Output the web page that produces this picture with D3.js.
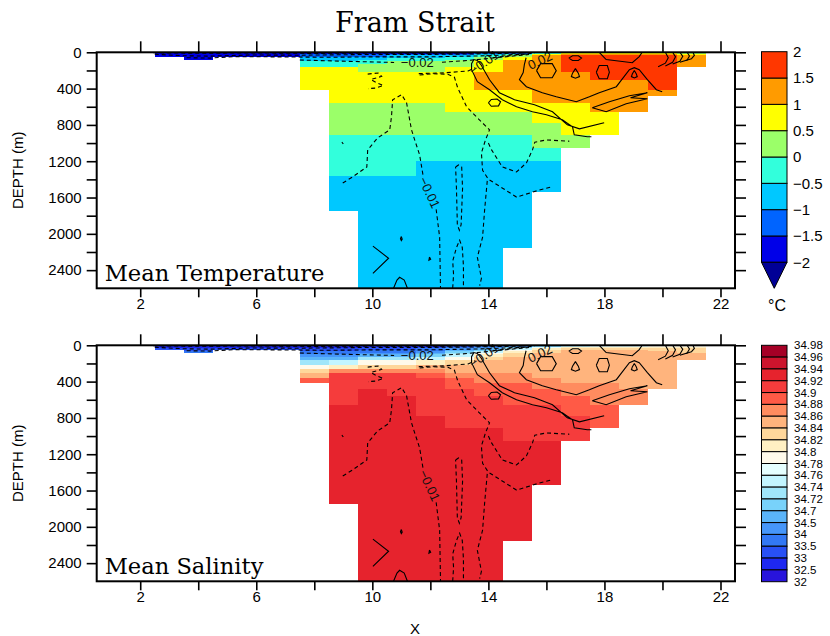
<!DOCTYPE html>
<html><head><meta charset="utf-8">
<script src="https://cdn.jsdelivr.net/npm/d3@7"></script>
<style>body{margin:0;background:#fff} svg{display:block}</style>
</head><body><svg id="c" width="830" height="636"></svg>
<script>
// ---------------- DATA ----------------
const levels = [0,10,20,35,50,65,80,100,125,165,220,260,310,360,410,480,555,660,780,910,1050,1200,1360,1540,1745,1950,2160,2380,2600];
const columns = [1,2,3,4,5,6,7,8,9,10,11,12,13,14,15,16,17,18,19,20,21,22];

const temperature = [
 [],
 [],
 [-1.8,-1.8,-1.8,-1.8],
 [-1.8,-1.8,-1.8,-1.8,-1.7,-1.6],
 [-1.8,-1.8,-1.8,-1.8],
 [-1.8,-1.8,-1.8,-1.8],
 [-1.8,-1.8,-1.8,-1.8],
 [-1.8,-1.8,-1.2,-1.2,-0.7,-0.7,-0.7,-0.3,-0.3,0.7,0.7,0.7,0.7,0.7],
 [-1.8,-1.8,-1.2,-1.2,-0.7,-0.7,-0.7,-0.3,-0.3,0.7,0.7,0.7,0.7,0.7,0.7,0.7,0.3,0.3,0.3,-0.3,-0.3,-0.3,-0.7,-0.7],
 [-1.8,-1.8,-1.2,-1.2,-0.7,-0.7,-0.3,-0.3,0.3,0.3,0.7,0.7,0.7,0.7,0.7,0.7,0.3,0.3,0.3,-0.3,-0.3,-0.3,-0.7,-0.7,-0.7,-0.7,-0.7,-0.7],
 [-1.8,-1.8,-1.2,-0.7,-0.7,-0.3,-0.3,0.3,0.3,0.3,0.7,0.7,0.7,0.7,0.7,0.7,0.3,0.3,0.3,-0.3,-0.3,-0.3,-0.7,-0.7,-0.7,-0.7,-0.7,-0.7],
 [-1.8,-1.8,-1.2,-0.7,-0.7,-0.3,-0.3,0.3,0.3,0.3,0.7,0.7,0.7,0.7,0.7,0.7,0.3,0.3,0.3,-0.3,-0.3,-0.7,-0.7,-0.7,-0.7,-0.7,-0.7,-0.7],
 [-1.8,-1.8,-1.2,-0.7,-0.3,-0.3,0.3,0.3,0.3,0.7,0.7,0.7,0.7,0.7,0.7,0.7,0.7,0.3,0.3,-0.3,-0.3,-0.7,-0.7,-0.7,-0.7,-0.7,-0.7,-0.7],
 [-1.8,-1.2,-0.7,-0.3,0.3,0.3,0.7,0.7,0.7,0.7,1.2,1.2,1.2,1.2,0.7,0.7,0.7,0.3,0.3,-0.3,-0.3,-0.7,-0.7,-0.7,-0.7,-0.7,-0.7,-0.7],
 [-1.8,-1.2,-0.3,0.3,0.7,0.7,1.2,1.2,1.2,1.2,1.2,1.2,1.2,1.2,0.7,0.7,0.7,0.3,0.3,-0.3,-0.3,-0.7,-0.7,-0.7,-0.7,-0.7],
 [-1.2,-0.3,0.7,1.2,1.2,1.2,1.2,1.2,1.2,1.2,1.2,1.2,1.2,1.2,1.2,1.2,0.7,0.7,0.3,0.3,-0.3,-0.7,-0.7],
 [-0.3,0.7,1.2,1.7,1.7,1.7,1.7,1.7,1.7,1.7,1.2,1.2,1.2,1.2,1.2,1.2,0.7,0.7,0.7,0.3],
 [-0.3,0.7,1.2,1.7,1.7,1.7,1.7,1.7,1.7,1.7,1.7,1.7,1.2,1.2,1.2,1.2,1.2,0.7,0.7],
 [-0.3,0.7,1.2,1.7,1.7,1.7,1.7,1.7,1.7,1.7,1.7,1.7,1.2,1.2,1.2,1.2,1.2],
 [-0.3,0.7,1.2,1.7,1.7,1.7,1.7,1.7,1.7,1.7,1.7,1.7,1.7,1.7,1.2],
 [-0.3,0.3,0.7,1.2,1.2,1.2,1.2,1.2,1.2],
 []
];

const salinity = [
 [],
 [],
 [32.7,32.7,32.7,33.2],
 [32.7,32.7,32.7,33.2,33.2,33.7],
 [32.7,32.7,32.7,33.2],
 [32.7,32.7,32.7,33.2],
 [32.7,32.7,32.7,33.2],
 [32.7,32.7,32.7,33.2,33.2,33.7,33.7,34.2,34.6,34.73,34.79,34.83,34.85,34.89],
 [32.7,32.7,32.7,33.2,33.2,33.7,33.7,34.2,34.6,34.75,34.81,34.87,34.91,34.91,34.91,34.91,34.91,34.93,34.93,34.93,34.93,34.93,34.93,34.93],
 [32.7,32.7,33.2,33.2,33.7,33.7,34.2,34.6,34.73,34.79,34.83,34.87,34.91,34.91,34.91,34.93,34.93,34.93,34.93,34.93,34.93,34.93,34.93,34.93,34.93,34.93,34.93,34.93],
 [32.7,32.7,33.2,33.2,33.7,33.7,34.2,34.6,34.73,34.79,34.83,34.87,34.91,34.91,34.91,34.91,34.93,34.93,34.93,34.93,34.93,34.93,34.93,34.93,34.93,34.93,34.93,34.93],
 [32.7,32.7,33.2,33.7,33.7,34.2,34.6,34.71,34.75,34.81,34.85,34.87,34.89,34.91,34.91,34.91,34.91,34.91,34.93,34.93,34.93,34.93,34.93,34.93,34.93,34.93,34.93,34.93],
 [32.7,33.2,33.7,34.2,34.6,34.71,34.73,34.75,34.79,34.83,34.85,34.85,34.87,34.89,34.89,34.91,34.91,34.91,34.91,34.93,34.93,34.93,34.93,34.93,34.93,34.93,34.93,34.93],
 [33.2,33.7,34.2,34.6,34.71,34.75,34.79,34.81,34.83,34.85,34.85,34.85,34.87,34.87,34.89,34.89,34.91,34.91,34.91,34.93,34.93,34.93,34.93,34.93,34.93,34.93,34.93,34.93],
 [33.7,34.2,34.71,34.75,34.79,34.81,34.83,34.83,34.85,34.85,34.85,34.85,34.87,34.87,34.89,34.89,34.89,34.91,34.91,34.91,34.93,34.93,34.93,34.93,34.93,34.93],
 [34.2,34.71,34.77,34.81,34.83,34.83,34.85,34.85,34.85,34.85,34.85,34.85,34.85,34.87,34.87,34.89,34.89,34.91,34.91,34.91,34.93,34.93,34.93],
 [34.6,34.75,34.81,34.83,34.85,34.85,34.85,34.85,34.85,34.85,34.85,34.85,34.85,34.85,34.87,34.87,34.89,34.89,34.91,34.91],
 [34.71,34.77,34.81,34.83,34.85,34.85,34.85,34.85,34.85,34.85,34.85,34.85,34.85,34.85,34.87,34.87,34.87,34.89,34.89],
 [34.71,34.77,34.81,34.83,34.85,34.85,34.85,34.85,34.85,34.85,34.85,34.85,34.85,34.85,34.85,34.87,34.87],
 [34.73,34.79,34.81,34.83,34.83,34.85,34.85,34.85,34.85,34.85,34.85,34.85,34.85,34.85,34.85],
 [34.75,34.79,34.81,34.83,34.83,34.83,34.85,34.85,34.85],
 []
];

const tempThresholds = [-2,-1.5,-1,-0.5,0,0.5,1,1.5];
const tempColors = ["#000096","#0000e8","#0064ff","#00c8ff","#32ffdc","#9bff69","#ffff00","#ff9b00","#ff3700"];
const tempLabels = ["2","1.5","1","0.5","0","\u22120.5","\u22121","\u22121.5","\u22122"];
const tempLabelValues = [2,1.5,1,0.5,0,-0.5,-1,-1.5,-2];

const salThresholds = [32.5,33,33.5,34,34.5,34.7,34.72,34.74,34.76,34.78,34.8,34.82,34.84,34.86,34.88,34.9,34.92,34.94,34.96];
const salColors = ["#2814dc","#1e28f0","#2850f5","#3278f5","#4696fa","#5ab4fa","#78d2fa","#a0e6fa","#c3f5ff","#e6ffff","#fffaeb","#fff0c3","#ffd79b","#ffb47d","#ff8c5f","#ff5a46","#f53c3c","#e6232d","#cd142d","#a50026"];
const salLabels = ["34.98","34.96","34.94","34.92","34.9","34.88","34.86","34.84","34.82","34.8","34.78","34.76","34.74","34.72","34.7","34.5","34","33.5","33","32.5","32"];

const xTicks = [2,4,6,8,10,12,14,16,18,20,22];
const xTickLabels = [2,6,10,14,18,22];
const yTicks = [0,200,400,600,800,1000,1200,1400,1600,1800,2000,2200,2400];
const yTickLabels = [0,400,800,1200,1600,2000,2400];

// contour lines of the overlay field [x, depth]
const negContours = [
 [[2.45,5],[4,10],[6,7],[8,12],[10,8],[12,10],[14,6],[15.5,2]],
 [[2.5,22],[3.5,38],[4.4,42],[5.8,30],[7.5,32],[9.5,25],[11.5,25],[13.5,18],[15.2,8]],
 [[3.6,60],[4.4,64],[5.2,48],[6.5,50],[8.5,55],[10,50],[12,50],[14,38],[15.4,18]],
 [[7.5,85],[9.2,100],[10.75,112]],
 [[12.4,110],[13.3,90],[14.4,55],[15.4,25]],
 [[11.6,235],[12.5,226],[13.3,205],[13.55,170]],
 [[14.15,60],[14.8,35],[15.6,8]],
 [[8.98,1440],[9.32,1373],[9.81,1263],[9.84,1075],[10.18,944],[10.6,854],[10.66,711],[10.7,523],[11.01,467],[11.18,556],[11.35,854],[11.46,965],[11.63,1130],[11.75,1360]],
 [[12.2,1730],[12.32,2037],[12.35,2600]],
 [[9.84,240],[10.2,228],[10.32,265],[9.95,300],[10.15,335],[10.38,365],[10.1,395],[9.85,400]],
 [[11.63,250],[12.08,236],[12.6,242],[12.83,275],[12.94,390],[13.25,600],[13.69,744],[14.04,854],[13.9,965],[13.76,1109],[13.8,1300],[13.97,1384],[13.87,1739],[13.8,2037],[13.62,2258],[13.76,2490],[13.7,2570]],
 [[14.0,1000],[14.11,1075],[14.48,1263],[14.97,1318],[15.31,1219],[15.52,1075],[15.6,990],[16.0,965],[16.79,980]],
 [[14.04,1406],[14.97,1595],[15.76,1517],[16.2,1480]],
 [[12.87,1263],[12.97,1241],[13.08,1263],[13.11,1500],[13.06,1900],[13.0,1960],[12.93,1900],[12.9,1500],[12.87,1263]],
 [[12.77,2600],[12.8,2450],[12.77,2300],[12.9,2150],[13.01,2070],[13.1,2150],[13.14,2350],[13.14,2600]],
 [[8.95,990],[9.0,1010]]
];
const posContours = [
 [[17.99,777],[17.14,843],[16.72,799],[16.21,655],[15.59,578],[14.9,523],[14.38,445],[14.04,302],[13.75,140],[13.62,90],[13.5,80],[13.42,125],[13.42,191],[13.62,324],[14.04,412],[14.48,523],[14.97,600],[15.52,655],[16.0,688],[16.55,744],[16.9,821],[16.96,909],[17.41,931],[17.55,931]],
 [[14.0,556],[14.1,520],[14.3,515],[14.42,545],[14.35,590],[14.1,595],[14.0,556]],
 [[15.3,60],[15.24,136],[15.2,224],[15.07,302],[15.31,379],[15.86,445],[16.34,490],[17.03,545],[17.48,490],[17.82,445],[18.41,379],[18.86,191],[19.03,169],[19.2,191],[19.48,302],[19.79,412],[19.99,434]],
 [[17.58,611],[18.06,655],[18.75,567],[19.48,512],[18.9,500],[19.48,445],[18.86,478],[18.17,545],[17.58,611]],
 [[15.66,202],[15.8,125],[16.2,125],[16.34,202],[16.2,280],[15.8,280],[15.66,202]],
 [[16.77,64],[16.9,38],[17.1,38],[17.21,64],[17.1,90],[16.9,90],[16.77,64]],
 [[17.0,180],[17.1,230],[17.14,268],[17.0,285],[16.86,268],[16.9,230],[17.0,180]],
 [[17.72,219],[17.82,146],[18.1,146],[18.17,219],[18.1,291],[17.82,291],[17.72,219]],
 [[19.03,200],[19.1,240],[19.13,268],[19.03,282],[18.93,268],[18.96,240],[19.03,200]],
 [[17.82,0],[18.06,80],[18.96,115],[19.2,48],[19.3,0]],
 [[20.1,0],[20.2,60],[20.1,120],[19.85,160]],
 [[20.35,0],[20.45,50],[20.35,110],[20.1,150]],
 [[20.6,0],[20.7,45],[20.6,100],[20.35,130]],
 [[20.85,0],[20.93,40],[20.85,85],[20.6,110]],
 [[21.05,0],[21.1,35],[21.0,70],[20.8,90]],
 [[10.02,2135],[10.56,2269],[10.02,2435]],
 [[10.73,2600],[10.85,2510],[10.94,2479],[11.1,2510],[11.21,2600]],
 [[11.0,2030],[11.03,2060],[11.0,2075],[10.97,2055],[11.0,2030]],
 [[11.97,2255],[12.01,2280],[11.95,2290],[11.97,2255]]
];
const contourLabels = [
 {text:"\u22120.02", x:11.55, d:114, rot:0},
 {text:"\u22120.01", x:13.85, d:110, rot:-35},
 {text:"0.02", x:15.78, d:90, rot:-25},
 {text:"\u22120.01", x:11.97, d:1545, rot:65}
];

// ---------------- DRAW ----------------
const svg = d3.select("#c");
svg.append("rect").attr("width",830).attr("height",636).attr("fill","#fff");
const L = 96.7, R = 735, H = 236;
const x = d3.scaleLinear().domain([0.5,22.5]).range([L,R]);
const sans = "'Liberation Sans', Arial, sans-serif";
const serif = "'DejaVu Serif', serif";

svg.append("text").attr("x",415).attr("y",32).attr("text-anchor","middle")
  .attr("font-family",serif).attr("font-size",27).text("Fram Strait");

function panel(top, field, color, label, clipId){
  const y = d3.scaleLinear().domain([0,2600]).range([top, top+H]);
  const g = svg.append("g");
  svg.append("clipPath").attr("id",clipId).append("rect")
    .attr("x",L).attr("y",top).attr("width",R-L).attr("height",H);
  const cells = [];
  field.forEach((col,i)=>col.forEach((v,k)=>{ if(v!=null) cells.push({c:columns[i],k,v}); }));
  g.append("g").attr("shape-rendering","crispEdges").selectAll("rect").data(cells).join("rect")
    .attr("x",d=>x(d.c-0.5)).attr("width",d=>x(d.c+0.5)-x(d.c-0.5))
    .attr("y",d=>y(levels[d.k])).attr("height",d=>y(levels[d.k+1])-y(levels[d.k]))
    .attr("fill",d=>color(d.v));
  const line = d3.line().x(d=>x(d[0])).y(d=>y(d[1]));
  const cg = g.append("g").attr("clip-path",`url(#${clipId})`).attr("fill","none").attr("stroke","#000").attr("stroke-width",1.1);
  cg.selectAll("path.n").data(negContours).join("path").attr("class","n").attr("d",line).attr("stroke-dasharray","4,3");
  cg.selectAll("path.p").data(posContours).join("path").attr("class","p").attr("d",line);
  g.selectAll("text.cl").data(contourLabels).join("text").attr("class","cl")
    .attr("transform",d=>`translate(${x(d.x)},${y(d.d)}) rotate(${d.rot})`)
    .attr("text-anchor","middle").attr("dy","0.35em")
    .attr("font-family",sans).attr("font-size",13).attr("fill","#111").text(d=>d.text);
  // label box
  g.append("rect").attr("x",L+1).attr("y",top+H-32).attr("width",240).attr("height",31).attr("fill","#fff");
  g.append("text").attr("x",L+8).attr("y",top+H-7).attr("font-family",serif).attr("font-size",22.6).text(label);
  // axes
  const ax = (a)=>a.tickSizeOuter(0);
  const bottom = g.append("g").attr("transform",`translate(0,${top+H})`)
    .call(ax(d3.axisBottom(x).tickValues(xTicks).tickSize(9).tickPadding(1).tickFormat(d=>xTickLabels.includes(d)?d:"")));
  const topAx = g.append("g").attr("transform",`translate(0,${top})`)
    .call(ax(d3.axisTop(x).tickValues(xTicks).tickSize(11).tickFormat("")));
  const left = g.append("g").attr("transform",`translate(${L},0)`)
    .call(ax(d3.axisLeft(y).tickValues(yTicks).tickSize(10).tickPadding(5).tickFormat(d=>yTickLabels.includes(d)?d:"")));
  const right = g.append("g").attr("transform",`translate(${R},0)`)
    .call(ax(d3.axisRight(y).tickValues(yTicks).tickSize(11).tickFormat("")));
  [bottom,topAx,left,right].forEach(a=>{
    a.select(".domain").remove();
    a.selectAll("line").attr("stroke","#000").attr("stroke-width",1.6);
    a.selectAll("text").attr("font-family",sans).attr("font-size",15).attr("fill","#000");
  });
  g.append("rect").attr("x",L).attr("y",top).attr("width",R-L).attr("height",H)
    .attr("fill","none").attr("stroke","#000").attr("stroke-width",2);
  g.append("text").attr("transform",`translate(23,${top+H/2}) rotate(-90)`).attr("text-anchor","middle")
    .attr("font-family",sans).attr("font-size",15).text("DEPTH (m)");
  return y;
}

const tempColor = d3.scaleThreshold().domain(tempThresholds).range(tempColors);
const salColor = d3.scaleThreshold().domain(salThresholds).range(salColors);
panel(52.3, temperature, tempColor, "Mean Temperature", "clip1");
panel(345.3, salinity, salColor, "Mean Salinity", "clip2");

svg.append("text").attr("x",415).attr("y",634).attr("text-anchor","middle")
  .attr("font-family",sans).attr("font-size",15).text("X");

// temperature colorbar
const cbX = 761.5, cbW = 25.5;
const cbY = d3.scaleLinear().domain([2,-2]).range([51.7,262.3]);
const cb1 = svg.append("g");
const tempBins = tempThresholds.map((t,i)=>({lo:t, hi:(i<tempThresholds.length-1?tempThresholds[i+1]:2), c:tempColors[i+1]}));
cb1.selectAll("rect").data(tempBins).join("rect")
  .attr("x",cbX).attr("width",cbW).attr("y",d=>cbY(d.hi)).attr("height",d=>cbY(d.lo)-cbY(d.hi))
  .attr("fill",d=>d.c).attr("stroke","#000").attr("stroke-width",1);
cb1.append("path").attr("d",`M${cbX},${cbY(-2)}L${cbX+cbW},${cbY(-2)}L${cbX+cbW/2},${cbY(-2)+26}Z`)
  .attr("fill",tempColors[0]).attr("stroke","#000").attr("stroke-width",1);
cb1.selectAll("text").data(tempLabelValues).join("text")
  .attr("x",cbX+cbW+6).attr("y",d=>cbY(d)).attr("dy","0.35em")
  .attr("font-family",sans).attr("font-size",15).text((d,i)=>tempLabels[i]);
svg.append("text").attr("x",777).attr("y",311).attr("text-anchor","middle")
  .attr("font-family",sans).attr("font-size",16).text("\u00b0C");

// salinity colorbar
const sY = d3.scaleLinear().domain([0,20]).range([345.3,581.7]);
const cb2 = svg.append("g");
const salBins = salColors.map((c,i)=>({i, c})).reverse();
cb2.selectAll("rect").data(salBins).join("rect")
  .attr("x",cbX).attr("width",cbW).attr("y",(d,j)=>sY(j)).attr("height",(d,j)=>sY(j+1)-sY(j))
  .attr("fill",d=>d.c).attr("stroke","#000").attr("stroke-width",1);
cb2.selectAll("text").data(salLabels).join("text")
  .attr("x",cbX+cbW+7).attr("y",(d,i)=>sY(i)).attr("dy","0.35em")
  .attr("font-family",sans).attr("font-size",11.5).text(d=>d);
</script></body></html>
